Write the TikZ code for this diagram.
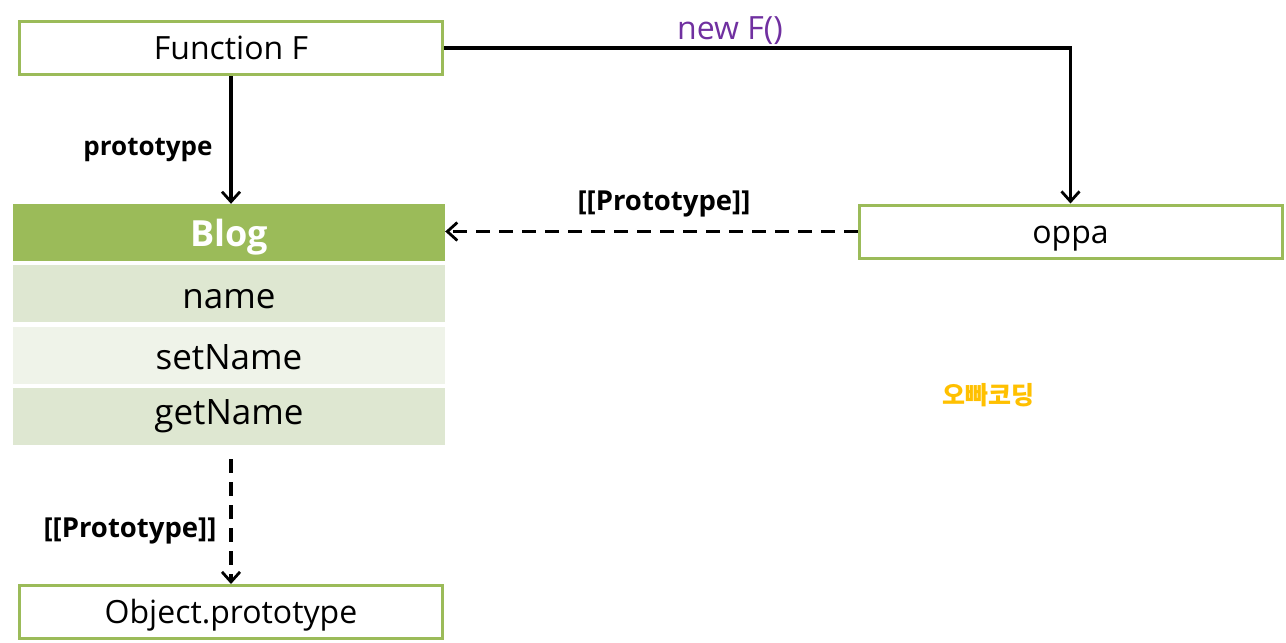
\documentclass[tikz,border=0pt]{standalone}
\usepackage{fontspec}
\setmainfont{Open Sans}
\newfontfamily\kofont{Noto Sans CJK KR}
\usetikzlibrary{arrows.meta,positioning}

\definecolor{boxgreen}{HTML}{9BBB59}
\definecolor{rowdark}{HTML}{DEE7D1}
\definecolor{rowlight}{HTML}{EFF3E9}
\definecolor{newpurple}{HTML}{7030A0}
\definecolor{logoorange}{HTML}{FFC000}

\begin{document}
\begin{tikzpicture}[%
    x=1pt, y=-1pt,
    >={Straight Barb[length=10pt,width=18pt,line width=2.8pt]},
    box/.style={draw=boxgreen, line width=3pt, fill=white, minimum width=423pt,
        minimum height=53pt, inner sep=0pt, text height=23pt, text depth=0pt,
        font={\fontsize{32}{38}\selectfont}},
    head/.style={fill=boxgreen, text=white, minimum width=432pt, minimum height=57pt,
        inner sep=0pt, text height=28pt, text depth=0pt,
        font={\fontsize{36}{42}\selectfont\bfseries}},
    row/.style={minimum width=432pt, minimum height=57pt, inner sep=0pt,
        text height=29pt, text depth=0pt, font={\fontsize{35}{41}\selectfont}},
    lbl/.style={font={\fontsize{26}{30}\selectfont\bfseries}},
    link/.style={line width=3.3pt},
    dlink/.style={line width=3.3pt, dash pattern=on 14pt off 9pt}
    ]

    \useasboundingbox (0,0) rectangle (1286,643);

    % boxes
    \node[box] (fnF) at (231,48) {Function F};
    \node[head] (blog) at (229,232.5) {Blog};
    \node[row, fill=rowdark, below=4pt of blog] (name) {name};
    \node[row, fill=rowlight, below=4pt of name] (setName) {setName};
    \node[row, fill=rowdark, below=4pt of setName, text depth=14pt] (getName) {getName};
    \node[box] (objProto) at (231,612) {Object.prototype};
    \node[box] (oppa) at (1070.5,231.5) {oppa};

    % links
    \draw[link, ->] (fnF.south) -- (fnF.south |- blog.north);
    \draw[link, ->] (fnF.east) -| (oppa.north);
    \draw[dlink, ->] (oppa.west) -- (oppa.west -| blog.east);
    \draw[dlink, ->, shorten <=14pt] (getName.south -| objProto.north) -- (objProto.north);

    % labels
    \node[lbl] (lblProto) at (148,150) {prototype};
    \node[font={\fontsize{32}{36}\selectfont}, text=newpurple] (lblNew) at (730,31) {new F()};
    \node[lbl, font={\fontsize{27.5}{32}\selectfont\bfseries}] (lblOppa) at (664,204) {[[Prototype]]};
    \node[lbl, font={\fontsize{27.5}{32}\selectfont\bfseries}] (lblBlog) at (130,531) {[[Prototype]]};
    \node[font={\fontsize{25}{30}\selectfont\kofont\bfseries}, text=logoorange] (logo) at (988,395) {오빠코딩};
\end{tikzpicture}
\end{document}
